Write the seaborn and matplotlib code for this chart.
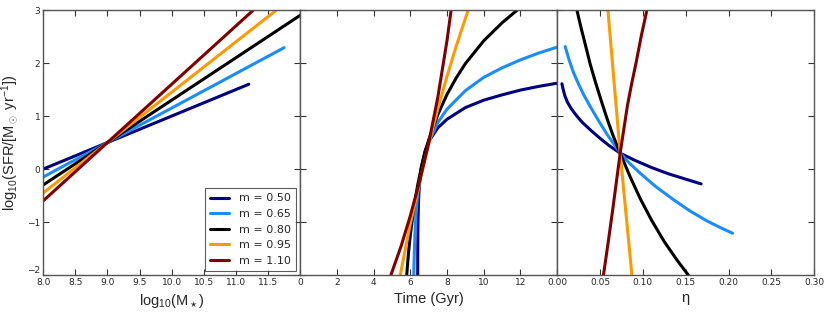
import matplotlib
matplotlib.use("Agg")
import pandas as pd
import matplotlib.pyplot as plt
import seaborn as sns

# slopes of the main sequence and their colours
slopes = [0.50, 0.65, 0.80, 0.95, 1.10]
colors = ["#000080", "#1a8cff", "#000000", "#ff9900", "#800000"]

# panel 1: log SFR vs log M (straight lines, start/end points)
mass_start = [8.0, 8.0, 8.0, 8.0, 8.0]
mass_end = [11.2, 11.75, 12.0, 11.8, 11.5]
sfr_mass_start = [0.0, -0.15, -0.3, -0.45, -0.6]
sfr_mass_end = [1.6, 2.29, 2.9, 3.16, 3.25]

# panel 2: log SFR vs time (Gyr)
time_m050 = [6.4018, 6.405, 6.41, 6.42, 6.45, 6.5, 6.6, 6.8, 7.0, 7.5, 8.0, 9.0, 10.0, 11.0, 12.0, 13.0, 14.0]
sfr_time_m050 = [-2.00, -1.56, -1.26, -0.96, -0.56, -0.26, 0.04, 0.34, 0.52, 0.78, 0.94, 1.16, 1.30, 1.40, 1.49, 1.56, 1.62]
time_m065 = [6.188, 6.2, 6.25, 6.3, 6.4, 6.6, 6.8, 7.0, 7.5, 8.0, 9.0, 10.0, 11.0, 12.0, 13.0, 14.0]
sfr_time_m065 = [-2.00, -1.78, -1.22, -0.89, -0.48, -0.01, 0.29, 0.51, 0.88, 1.13, 1.48, 1.73, 1.91, 2.06, 2.19, 2.30]
time_m080 = [5.80, 5.9, 6.0, 6.2, 6.4, 6.6, 6.8, 7.0, 7.5, 8.0, 8.5, 9.0, 10.0, 11.0, 12.0]
sfr_time_m080 = [-2.01, -1.58, -1.24, -0.70, -0.30, 0.03, 0.31, 0.55, 1.03, 1.41, 1.72, 1.99, 2.42, 2.76, 3.05]
time_m095 = [5.45, 6.0, 6.5, 7.0, 7.5, 8.0, 8.5, 9.15]
sfr_time_m095 = [-2.0, -1.03, -0.25, 0.47, 1.14, 1.75, 2.32, 3.0]
time_m110 = [4.9, 5.5, 6.0, 6.5, 7.0, 7.5, 8.0, 8.3]
sfr_time_m110 = [-2.04, -1.45, -0.88, -0.24, 0.49, 1.36, 2.43, 3.20]

# panel 3: log SFR vs eta
eta_m050 = [0.0055, 0.007, 0.009, 0.012, 0.016, 0.02, 0.025, 0.03, 0.04, 0.05,
            0.06, 0.0735, 0.09, 0.11, 0.13, 0.15, 0.168]
sfr_eta_m050 = [1.61, 1.50, 1.38, 1.26, 1.15, 1.06, 0.96, 0.87, 0.72, 0.58,
                0.45, 0.30, 0.17, 0.03, -0.09, -0.19, -0.28]
eta_m065 = [0.0093, 0.0115, 0.0135, 0.016, 0.019, 0.025, 0.031, 0.0385, 0.048,
            0.058, 0.0735, 0.085, 0.097, 0.115, 0.136, 0.155, 0.175, 0.19, 0.2047]
sfr_eta_m065 = [2.31, 2.19, 2.08, 1.96, 1.82, 1.60, 1.40, 1.18, 0.92,
                0.66, 0.30, 0.10, -0.08, -0.33, -0.58, -0.79, -0.98, -1.10, -1.21]
eta_m080 = [0.023, 0.027, 0.032, 0.0385, 0.045, 0.052, 0.058, 0.065, 0.0735,
            0.085, 0.097, 0.11, 0.125, 0.14, 0.154]
sfr_eta_m080 = [3.0, 2.72, 2.40, 1.98, 1.62, 1.26, 0.96, 0.64, 0.30,
                -0.14, -0.56, -0.96, -1.37, -1.72, -2.02]
eta_m095 = [0.0592, 0.0735, 0.0872]
sfr_eta_m095 = [3.0, 0.30, -2.0]
eta_m110 = [0.054, 0.0595, 0.0645, 0.069, 0.0735, 0.078, 0.082, 0.087, 0.092, 0.098, 0.1047]
sfr_eta_m110 = [-2.0, -1.38, -0.80, -0.25, 0.30, 0.78, 1.20, 1.62, 2.00, 2.50, 3.0]

time_x = [time_m050, time_m065, time_m080, time_m095, time_m110]
time_y = [sfr_time_m050, sfr_time_m065, sfr_time_m080, sfr_time_m095, sfr_time_m110]
eta_x = [eta_m050, eta_m065, eta_m080, eta_m095, eta_m110]
eta_y = [sfr_eta_m050, sfr_eta_m065, sfr_eta_m080, sfr_eta_m095, sfr_eta_m110]

sns.set_style("white")
plt.rcParams["font.family"] = ["DejaVu Sans"]
plt.rcParams["axes.unicode_minus"] = True
plt.rcParams["mathtext.fontset"] = "custom"
plt.rcParams["mathtext.rm"] = "Liberation Sans"
plt.rcParams["mathtext.it"] = "Liberation Sans:italic"
plt.rcParams["mathtext.bf"] = "Liberation Sans:bold"

fig, axes = plt.subplots(1, 3, figsize=(8.3, 3.13), dpi=100, sharey=True)
fig.subplots_adjust(left=0.052, right=0.981, bottom=0.121, top=0.968, wspace=0)

lw = 2.2
for i, m in enumerate(slopes):
    lab = f"m = {m:.2f}"
    df = pd.DataFrame({"x": [mass_start[i], mass_end[i]], "y": [sfr_mass_start[i], sfr_mass_end[i]]})
    sns.lineplot(data=df, x="x", y="y", ax=axes[0], color=colors[i], lw=lw,
                 sort=False, estimator=None, label=lab)
    df = pd.DataFrame({"x": time_x[i], "y": time_y[i]})
    sns.lineplot(data=df, x="x", y="y", ax=axes[1], color=colors[i], lw=lw,
                 sort=False, estimator=None, legend=False)
    df = pd.DataFrame({"x": eta_x[i], "y": eta_y[i]})
    sns.lineplot(data=df, x="x", y="y", ax=axes[2], color=colors[i], lw=lw,
                 sort=False, estimator=None, legend=False)

axes[0].set_xlim(8.0, 12.0)
axes[0].set_xticks([8.0, 8.5, 9.0, 9.5, 10.0, 10.5, 11.0, 11.5, 12.0])
axes[0].set_xticklabels(["8.0", "8.5", "9.0", "9.5", "10.0", "10.5", "11.0", "11.5", ""])
axes[1].set_xlim(0, 14)
axes[1].set_xticks([0, 2, 4, 6, 8, 10, 12, 14])
axes[1].set_xticklabels(["0", "2", "4", "6", "8", "10", "12", ""])
axes[2].set_xlim(0.0, 0.30)
axes[2].set_xticks([0.0, 0.05, 0.10, 0.15, 0.20, 0.25, 0.30])
axes[2].set_xticklabels(["0.00", "0.05", "0.10", "0.15", "0.20", "0.25", "0.30"])
axes[0].set_ylim(-2, 3)
axes[0].set_yticks([-2, -1, 0, 1, 2, 3])

label_font = {"family": "Liberation Sans", "size": 10.5}
axes[0].set_xlabel(r"$\mathrm{log_{10}(M_\star)}$", fontdict=label_font, labelpad=4)
axes[1].set_xlabel("Time (Gyr)", fontdict=label_font, labelpad=4)
axes[2].set_xlabel(r"$\mathrm{\eta}$", fontdict=label_font, labelpad=4)
axes[0].set_ylabel(r"$\mathrm{log_{10}(SFR/[M_\odot\ yr^{-1}])}$", fontdict=label_font, labelpad=5)
axes[1].set_ylabel("")
axes[2].set_ylabel("")

for ax in axes:
    ax.tick_params(direction="in", top=True, right=True, left=True, bottom=True,
                   length=4, width=0.8, labelsize=6.5, pad=2, color="#333333")
    for sp in ax.spines.values():
        sp.set_color("#555555")
        sp.set_linewidth(1.0)

# lowest y label sits just above its tick, as in the original
axes[0].get_yticklabels()[0].set_verticalalignment("bottom")

leg = axes[0].legend(loc="lower right", fontsize=8, frameon=True, fancybox=False,
                     handlelength=1.7, borderpad=0.45, labelspacing=0.5,
                     handletextpad=0.9, borderaxespad=0.4)
leg.get_frame().set_edgecolor("#333333")
leg.get_frame().set_linewidth(0.8)
for h in leg.get_lines():
    h.set_linewidth(2.2)

fig.savefig("out.png", dpi=100)
